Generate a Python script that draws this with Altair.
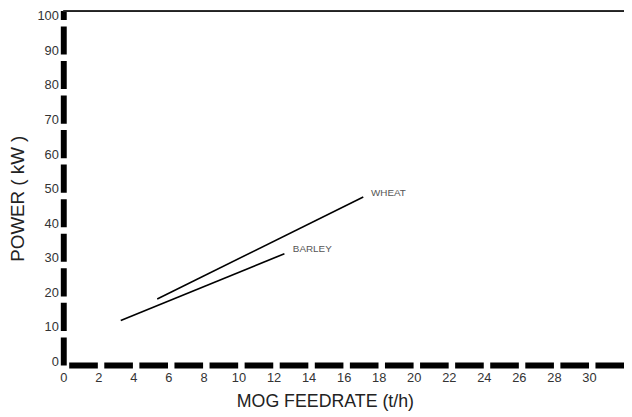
import altair as alt
import pandas as pd

crops = ["WHEAT", "WHEAT", "BARLEY", "BARLEY"]
feedrate = [5.36, 17.12, 3.28, 12.62]
power = [18.1, 47.6, 11.9, 31.2]

label_text = ["WHEAT", "BARLEY"]
label_x = [17.56, 13.1]
label_y = [48.6, 32.4]

x_ticks = list(range(0, 32, 2))
y_ticks = list(range(0, 101, 10))

lines_df = pd.DataFrame({"crop": crops, "x": feedrate, "y": power})
labels_df = pd.DataFrame({"t": label_text, "x": label_x, "y": label_y})

W, H = 568, 359
xs = alt.Scale(domain=[0, 32], nice=False, zero=False)
ys = alt.Scale(domain=[-1, 101.5], nice=False, zero=False)

lines = alt.Chart(lines_df).mark_line(color="black", strokeWidth=1.6).encode(
    x=alt.X("x:Q", scale=xs, axis=alt.Axis(
        values=x_ticks, title="MOG FEEDRATE (t/h)", labelPadding=7,
        labelOverlap=False, tickCount=16,
        domainDash=[29, 6.54], domainDashOffset=-5.5, titleX=265, titleY=37,
        titleBaseline="middle", titleAnchor="start", titleAlign="center",
        titleFontSize=18)),
    y=alt.Y("y:Q", scale=ys, axis=alt.Axis(
        values=y_ticks, title="POWER ( kW )", labelPadding=5,
        labelOverlap=False, tickCount=11,
        domainDash=[28.5, 6.5], domainDashOffset=0, titleX=-46, titleY=190,
        titleBaseline="middle", titleAlign="center", titleAnchor="start",
        titleFontSize=19)),
    detail="crop:N",
)

texts = alt.Chart(labels_df).mark_text(
    align="left", baseline="middle", fontSize=10, color="#555",
    font="Liberation Sans").encode(
    x=alt.X("x:Q", scale=xs), y=alt.Y("y:Q", scale=ys), text="t:N")

top = alt.Chart(labels_df).mark_rule(color="#222", strokeWidth=2).encode(
    y=alt.value(0.5), x=alt.value(0), x2=alt.value(W))

chart = alt.layer(lines, texts, top).properties(
    width=W, height=H,
    autosize=alt.AutoSizeParams(type="none"),
    padding={"left": 56, "top": 0, "right": 0, "bottom": 50},
).configure_view(stroke=None).configure_axis(
    grid=False, ticks=False, domainColor="black", domainWidth=6,
    labelFont="Liberation Sans", labelFontSize=13, labelColor="#333",
    titleFont="Liberation Sans", titleFontWeight="normal",
    titleColor="#222", labelFlush=False,
)

chart.save("out.html", embed_options={"renderer": "svg", "actions": False})
